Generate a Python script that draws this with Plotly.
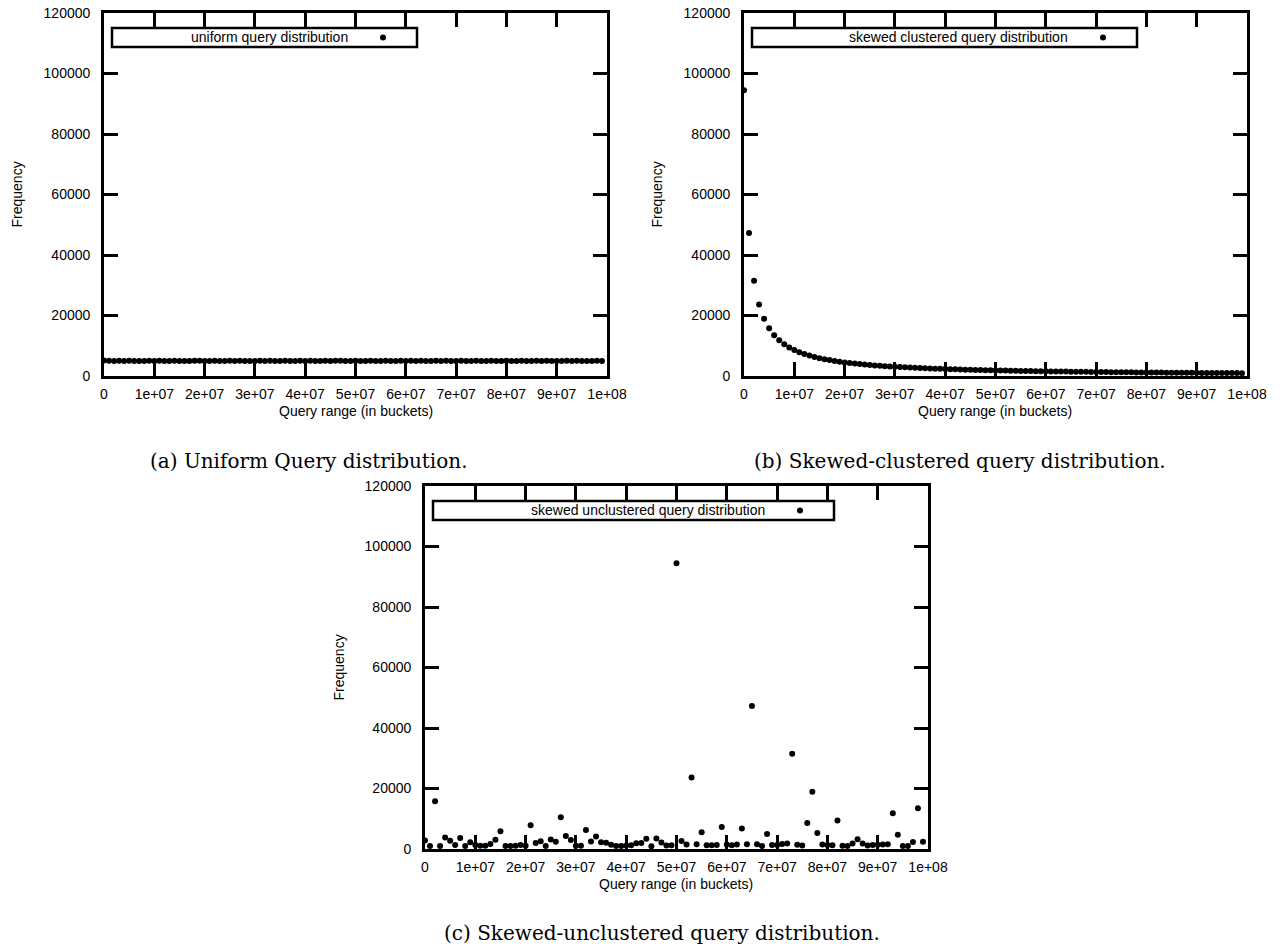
import plotly.graph_objects as go

W, H = 1283, 946

# ---------------- data ----------------
BUCKET_STEP = 1_000_000
BUCKET_STARTS = [i * BUCKET_STEP for i in range(100)]

UNIFORM_FREQ = [
    5150, 5020, 4980, 5010, 4960, 5030, 4990, 5000, 4970, 5020,
    4950, 5010, 4990, 4960, 5040, 5000, 4980, 4970, 5020, 5010,
    4990, 4950, 5030, 5000, 4980, 5010, 4960, 5020, 4990, 5000,
    4970, 5040, 4980, 5010, 4990, 4960, 5020, 5000, 4950, 5010,
    4990, 5030, 4970, 5000, 5020, 4980, 5060, 5010, 4960, 4990,
    5020, 5000, 4970, 5030, 4990, 4960, 5010, 5000, 4980, 5020,
    4950, 5010, 4990, 5040, 4970, 5000, 5020, 4980, 5010, 4960,
    4990, 5030, 5000, 4970, 5020, 4990, 4950, 5010, 5000, 4980,
    5040, 4990, 4960, 5020, 5000, 4970, 5010, 4990, 5030, 4980,
    5000, 4960, 5020, 4990, 5010, 4970, 5000, 4980, 5020, 4990,
]

SKEWED_CLUSTERED_FREQ = [
    94500, 47250, 31500, 23625, 18900, 15750, 13500, 11813, 10500, 9450,
    8591, 7875, 7269, 6750, 6300, 5906, 5559, 5250, 4974, 4725,
    4500, 4295, 4109, 3938, 3780, 3635, 3500, 3375, 3259, 3150,
    3048, 2953, 2864, 2779, 2700, 2625, 2554, 2487, 2423, 2363,
    2305, 2250, 2198, 2148, 2100, 2054, 2011, 1969, 1929, 1890,
    1853, 1817, 1783, 1750, 1718, 1688, 1658, 1629, 1602, 1575,
    1549, 1524, 1500, 1477, 1454, 1432, 1410, 1390, 1370, 1350,
    1331, 1313, 1295, 1277, 1260, 1243, 1227, 1212, 1196, 1181,
    1167, 1152, 1139, 1125, 1112, 1099, 1086, 1074, 1062, 1050,
    1038, 1027, 1016, 1005, 995, 984, 974, 964, 955, 945,
]

SKEWED_UNCLUSTERED_FREQ = [
    2779, 1016, 15750, 1027, 3780, 2700, 1313, 3635, 1005, 2198,
    1331, 1099, 1112, 1658, 3048, 5906, 995, 984, 1050, 1350,
    1062, 7875, 2011, 2554, 974, 3150, 2423, 10500, 4295, 2953,
    1038, 1074, 6300, 2487, 4109, 2250, 2054, 1370, 964, 955,
    1125, 1243, 1890, 1969, 3375, 945, 3500, 2148, 1139, 1232,
    94500, 2625, 1517, 23625, 1540, 5559, 1260, 1277, 1295, 7269,
    1477, 1227, 1454, 6750, 1602, 47250, 1549, 1016, 4974, 1350,
    1331, 1629, 1853, 31500, 1432, 1181, 8591, 18900, 5250, 1524,
    1349, 1212, 9450, 1050, 995, 1817, 3259, 1783, 1196, 1331,
    1370, 1500, 1575, 11813, 4725, 974, 984, 2305, 13500, 2363,
]

X_TICKS = [0, 1e7, 2e7, 3e7, 4e7, 5e7, 6e7, 7e7, 8e7, 9e7, 1e8]
X_TICK_LABELS = ["0", "1e+07", "2e+07", "3e+07", "4e+07", "5e+07",
                 "6e+07", "7e+07", "8e+07", "9e+07", "1e+08"]
Y_TICKS = [0, 20000, 40000, 60000, 80000, 100000, 120000]
Y_TICK_LABELS = ["0", "20000", "40000", "60000", "80000", "100000", "120000"]

SERIES_NAMES = ["uniform query distribution",
                "skewed clustered query distribution",
                "skewed unclustered query distribution"]
CAPTIONS = ["(a) Uniform Query distribution.",
            "(b) Skewed-clustered query distribution.",
            "(c) Skewed-unclustered query distribution."]
X_TITLE = "Query range (in buckets)"
Y_TITLE = "Frequency"

# ---------------- layout helpers ----------------
def px(x):
    return x / W

def py(y):
    return 1 - y / H

# plot-area pixel boxes (left, right, top, bottom)
PANELS = [(104, 607, 13, 376), (744, 1247, 13, 376), (425, 928, 486, 849)]
LEGEND_RIGHT = [417, 1137, 834]
CAPTION_POS = [(309, 461), (960, 461), (662, 933)]

SANS = "Liberation Sans, Arial, Helvetica, sans-serif"
SERIF = "DejaVu Serif, serif"
FS = 14

fig = go.Figure()
series = [UNIFORM_FREQ, SKEWED_CLUSTERED_FREQ, SKEWED_UNCLUSTERED_FREQ]

shapes = []
annotations = []
layout = {}
for i, (vals, name) in enumerate(zip(series, SERIES_NAMES)):
    suffix = "" if i == 0 else str(i + 1)
    fig.add_trace(go.Scatter(
        x=BUCKET_STARTS, y=vals, mode="markers", name=name,
        xaxis="x" + suffix, yaxis="y" + suffix, cliponaxis=False,
        marker=dict(color="black", size=6, line=dict(width=0)),
        showlegend=False,
    ))
    l, r, t, b = PANELS[i]
    axis_common = dict(
        ticks="inside", ticklen=14, tickwidth=2.5, tickcolor="black",
        showline=True, linecolor="black", linewidth=2.8, mirror="ticks",
        showgrid=False, zeroline=False, fixedrange=True, automargin=False,
        tickfont=dict(family=SANS, size=FS, color="black"),
    )
    layout["xaxis" + suffix] = dict(
        axis_common, domain=[px(l), px(r)], range=[0, 1e8],
        tickmode="array", tickvals=X_TICKS, ticktext=X_TICK_LABELS,
        anchor="y" + suffix, ticklabelstandoff=3,
    )
    layout["yaxis" + suffix] = dict(
        axis_common, domain=[py(b), py(t)], range=[0, 120000],
        tickmode="array", tickvals=Y_TICKS, ticktext=Y_TICK_LABELS,
        anchor="x" + suffix, ticklabelstandoff=8,
    )
    # axis titles
    annotations.append(dict(
        text=X_TITLE, x=px((l + r) / 2), y=py(b + 35), xref="paper", yref="paper",
        showarrow=False, font=dict(family=SANS, size=FS, color="black"),
        xanchor="center", yanchor="middle"))
    annotations.append(dict(
        text=Y_TITLE, x=px(l - 87), y=py((t + b) / 2), xref="paper", yref="paper",
        showarrow=False, textangle=-90, font=dict(family=SANS, size=FS, color="black"),
        xanchor="center", yanchor="middle"))
    # legend box
    lx0, lx1 = l + 8, LEGEND_RIGHT[i]
    ly0, ly1 = t + 15, t + 34
    shapes.append(dict(type="rect", xref="paper", yref="paper",
                       x0=px(lx0), x1=px(lx1), y0=py(ly1), y1=py(ly0),
                       line=dict(color="black", width=2.5), fillcolor="white", layer="above"))
    cx, cy = lx1 - 34, (ly0 + ly1) / 2
    shapes.append(dict(type="circle", xref="paper", yref="paper",
                       x0=px(cx - 3), x1=px(cx + 3), y0=py(cy + 3), y1=py(cy - 3),
                       line=dict(width=0), fillcolor="black", layer="above"))
    annotations.append(dict(
        text=name, x=px(cx - 33), y=py(cy), xref="paper", yref="paper",
        showarrow=False, font=dict(family=SANS, size=FS, color="black"),
        xanchor="right", yanchor="middle"))
    # caption
    capx, capy = CAPTION_POS[i]
    annotations.append(dict(
        text=CAPTIONS[i], x=px(capx), y=py(capy), xref="paper", yref="paper",
        showarrow=False, font=dict(family=SERIF, size=20, color="black"),
        xanchor="center", yanchor="middle"))

fig.update_layout(
    width=W, height=H, margin=dict(l=0, r=0, t=0, b=0, autoexpand=False),
    paper_bgcolor="white", plot_bgcolor="white",
    shapes=shapes, annotations=annotations, **layout,
)

fig.write_html(
    "out.html",
    config={"displayModeBar": False},
    post_script="document.body.style.margin='0px';document.body.style.overflow='hidden';",
)
